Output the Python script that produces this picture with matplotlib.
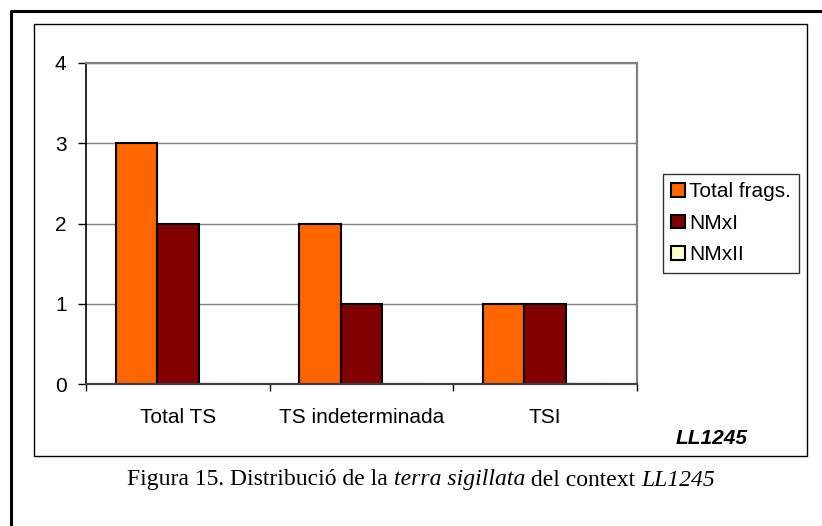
import matplotlib
matplotlib.use("Agg")
import matplotlib.pyplot as plt
from matplotlib.patches import Rectangle
from matplotlib.lines import Line2D
import numpy as np

# data
categories = ["Total TS", "TS indeterminada", "TSI"]
total_frags = [3, 2, 1]
nmxi = [2, 1, 1]
nmxii = [0, 0, 0]
series_names = ["Total frags.", "NMxI", "NMxII"]
series_colors = ["#FF6600", "#800000", "#FFFFCC"]

plt.rcParams["font.family"] = ["Liberation Sans", "DejaVu Sans"]

W, H = 822, 526
fig = plt.figure(figsize=(W / 100, H / 100), dpi=100)
fig.patch.set_facecolor("white")

# plot area in pixels: left 86, right 637, top 63, bottom 384
ax = fig.add_axes([86 / W, 1 - 384 / H, (637 - 86) / W, (384 - 63) / H])

x = np.arange(len(categories))
w = 0.226
for i, (vals, name, col) in enumerate(zip([total_frags, nmxi, nmxii], series_names, series_colors)):
    ax.bar(x + (i - 1) * w, vals, width=w, color=col, edgecolor="black",
           linewidth=1.5, label=name, zorder=3)

ax.set_xlim(-0.5, len(categories) - 0.5)
ax.set_ylim(0, 4)
ax.set_yticks(range(0, 5))
ax.yaxis.grid(True, color="#808080", linewidth=1, zorder=0)
ax.set_axisbelow(True)

ax.set_xticks(x)
ax.set_xticklabels(categories, fontsize=15)
ax.set_xticks(np.arange(-0.5, len(categories)), minor=True)
ax.tick_params(axis="x", which="major", length=0, pad=17)
ax.tick_params(axis="x", which="minor", length=5, width=1, color="black", direction="out")
ax.tick_params(axis="y", length=6, width=1, color="black", direction="out", pad=8, labelsize=15)

ax.spines["top"].set_color("#808080")
ax.spines["right"].set_color("#808080")
ax.spines["top"].set_linewidth(1.6)
ax.spines["right"].set_linewidth(1.6)
ax.spines["left"].set_color("black")
ax.spines["left"].set_linewidth(1.2)
ax.spines["bottom"].set_color("#404040")
ax.spines["bottom"].set_linewidth(1.6)
ax.spines["bottom"].set_zorder(4)

leg = ax.legend(loc="upper right", bbox_to_anchor=(799 / W, 1 - 174 / H),
                bbox_transform=fig.transFigure, borderaxespad=0, fontsize=15,
                fancybox=False, frameon=True, edgecolor="black",
                handlelength=0.65, handleheight=0.65, handletextpad=0.2,
                labelspacing=0.6, borderpad=0.4)
leg.get_frame().set_linewidth(1)

# chart box
fig.patches.append(Rectangle((34 / W, 1 - 456 / H), (807 - 34) / W, (456 - 24) / H,
                             transform=fig.transFigure, fill=False,
                             edgecolor="black", linewidth=1))

# outer frame (left and top only visible)
fig.lines.append(Line2D([10.5 / W, 10.5 / W, 1.0], [0.0, 1 - 11 / H, 1 - 11 / H],
                        transform=fig.transFigure, color="black", linewidth=2.2))

fig.text(748 / W, 1 - 439 / H, "LL1245", ha="right", va="center",
         fontsize=15, fontweight="bold", fontstyle="italic")

# caption with mixed italic parts
parts = [("Figura 15. Distribució de la ", "normal"),
         ("terra sigillata", "italic"),
         (" del context ", "normal"),
         ("LL1245", "italic")]
renderer = fig.canvas.get_renderer()
texts = []
xpos = 0.0
for s, style in parts:
    t = fig.text(xpos, 1 - 480 / H, s, ha="left", va="center", fontsize=17,
                 family=["Liberation Serif", "DejaVu Serif"], fontstyle=style)
    bb = t.get_window_extent(renderer)
    texts.append((t, bb.width))
    xpos += bb.width / W
total = xpos * W
cur = 421 - total / 2
for t, wd in texts:
    t.set_x(cur / W)
    cur += wd

fig.savefig("out.png", dpi=100)
